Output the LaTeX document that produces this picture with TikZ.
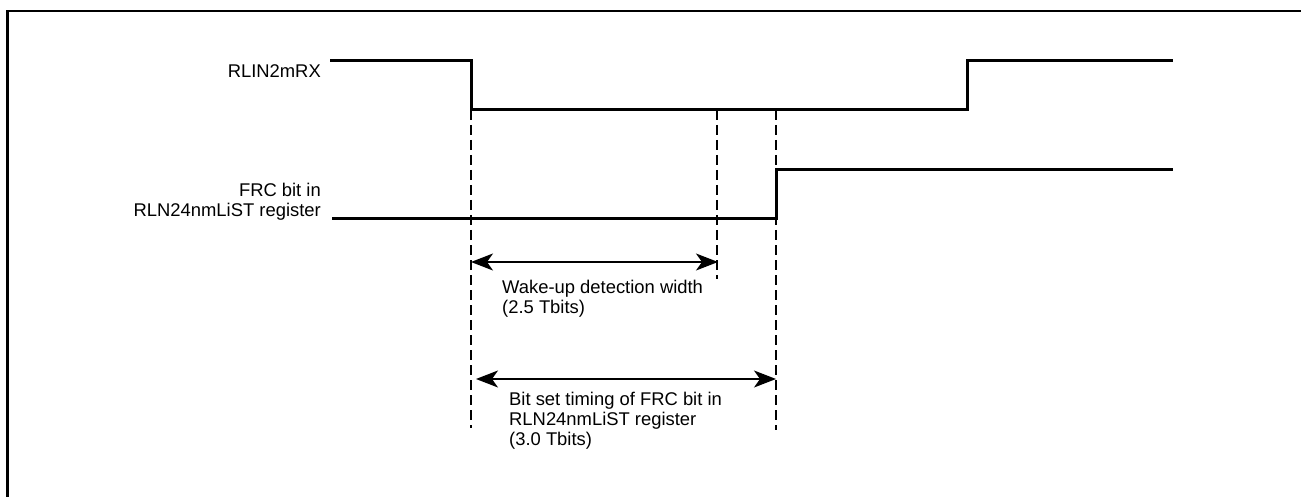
\documentclass[tikz,border=0pt]{standalone}
\usepackage{fontspec}
\setmainfont{Liberation Sans}
\usetikzlibrary{arrows.meta}
\begin{document}
\begin{tikzpicture}[x=1pt,y=-1pt,
  signal/.style={line width=3pt},
  guide/.style={line width=1.1pt,dash pattern=on 10pt off 5pt},
  dim/.style={line width=1.3pt,{Stealth[length=22pt,width=17pt,inset=6pt]}-{Stealth[length=22pt,width=17pt,inset=6pt]}},
  lbl/.style={inner sep=0pt,font=\fontsize{18.4}{20}\selectfont}]
\useasboundingbox (0,0) rectangle (1301,497);
\draw[line width=2.6pt] (7.5,497) |- (1301,11);
% coordinates
\coordinate (t0) at (471,110);
\coordinate (t1) at (717,110);
\coordinate (t2) at (776,110);
\coordinate (b0) at (471,428);
\coordinate (b1) at (717,279);
\coordinate (b2) at (776,430);
% signals
\draw[signal] (330,61) -- (471,61) -- (t0) -- (967,110) -- (967,61) -- (1173,61);
\draw[signal] (332,219) -- (776,219) -- (776,170) -- (1173,170);
% guides
\draw[guide] (t0) -- (b0);
\draw[guide] (t1) -- (b1);
\draw[guide] (t2) -- (b2);
% labels
\node[lbl,anchor=base east] (rx) at (321,78) {RLIN2mRX};
\node[lbl,anchor=base east,align=right] (frc) at (321,217) {FRC bit in\\RLN24nmLiST register};
% dimension arrows
\coordinate (a1l) at (471,262);
\coordinate (a1r) at (718,262);
\coordinate (a2l) at (476,379);
\coordinate (a2r) at (776,379);
\draw[dim] (a1l) -- (a1r);
\draw[dim] (a2l) -- (a2r);
\node[lbl,anchor=base west,align=left] (w) at (502,313) {Wake-up detection width\\(2.5 Tbits)};
\node[lbl,anchor=base west,align=left] (bs) at (509,445) {Bit set timing of FRC bit in\\RLN24nmLiST register\\(3.0 Tbits)};
\end{tikzpicture}
\end{document}
